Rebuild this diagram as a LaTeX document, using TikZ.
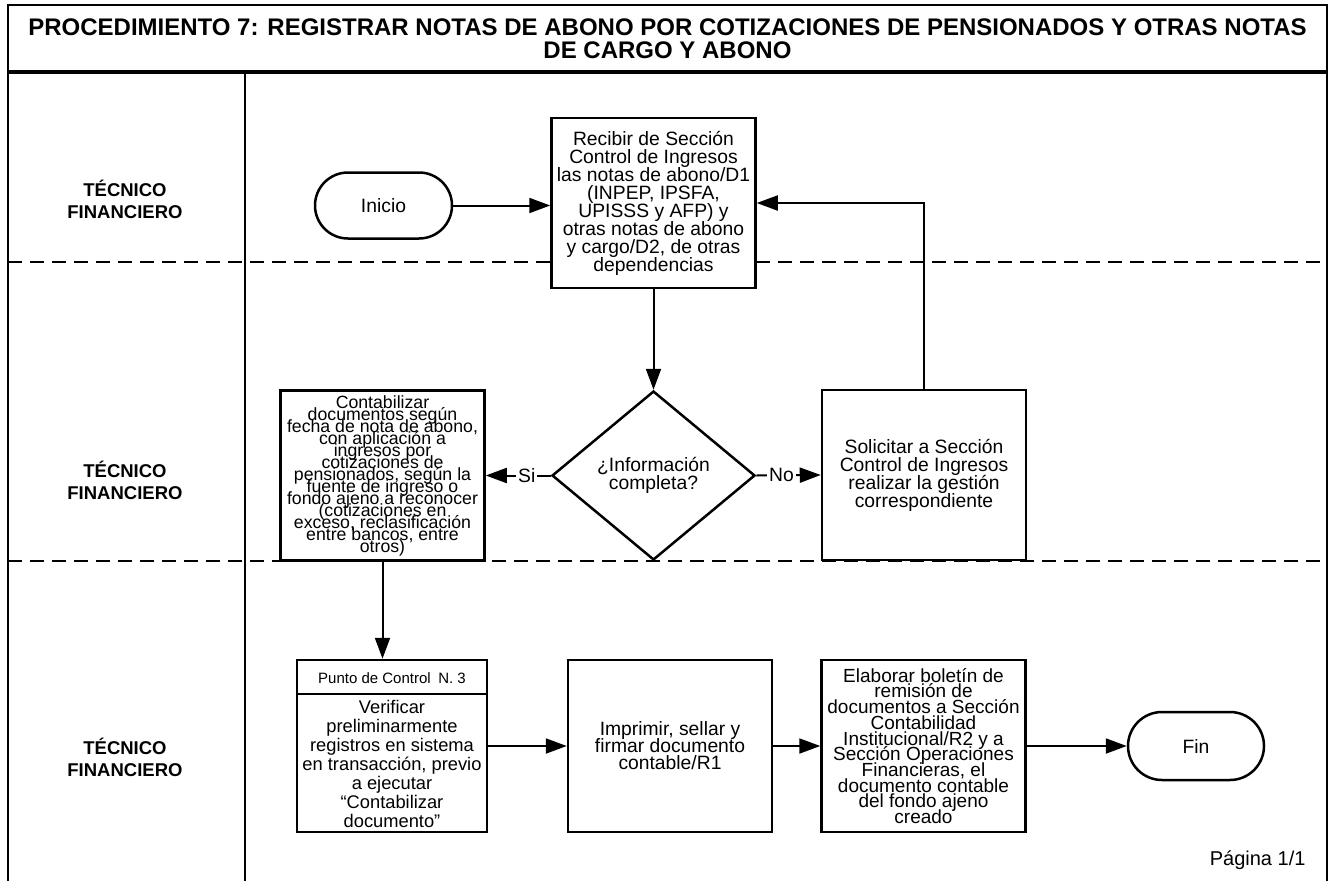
\documentclass[tikz,border=0pt]{standalone}
\usepackage{fontspec}
\setmainfont{Liberation Sans}
\usetikzlibrary{arrows.meta,shapes.geometric}

% fixed leading even when lines would touch
\newcommand{\setleading}[2]{\fontsize{#1}{#2}\selectfont\lineskiplimit=-100pt\lineskip=0pt}

\tikzset{
  box/.style={draw, fill=white, line width=2.5pt, minimum width=204pt, minimum height=170pt,
    inner sep=0pt, align=center, font=\setleading{19.3}{18}},
  term/.style={draw, fill=white, line width=2.5pt, rounded corners=33pt, minimum width=137pt,
    minimum height=66pt, inner sep=0pt, font=\setleading{19.3}{18}},
  decision/.style={draw, fill=white, diamond, line width=2.5pt, minimum width=203pt,
    minimum height=169pt, inner sep=0pt, align=center, font=\setleading{19.3}{18}},
  flow/.style={line width=2pt, -{Triangle[length=21pt,width=15pt]}},
  tag/.style={fill=white, inner sep=2pt, font=\setleading{19.3}{18}},
  lane/.style={align=center, font=\bfseries\setleading{18.5}{22}},
  lanesep/.style={line width=2pt, dash pattern=on 14pt off 8pt},
  frameline/.style={line width=2.5pt},
}

\begin{document}
\begin{tikzpicture}[x=1pt, y=-1pt]
  % canvas
  \fill[white] (0,0) rectangle (1330,881);
  \useasboundingbox (0,0) rectangle (1330,881);

  % frame, title band and lane column
  \draw[frameline] (8,881) -- (8,5) -- (1327,5) -- (1327,881);
  \draw[line width=3.5pt] (8,72) -- (1327,72);
  \draw[frameline] (245,72) -- (245,881);
  \draw[lanesep] (8,262) -- (1327,262);
  \draw[lanesep] (8,561) -- (1327,561);

  \node[align=center, font=\bfseries\setleading{24}{23}] (title) at (667.5,38.5)
    {PROCEDIMIENTO 7: REGISTRAR NOTAS DE ABONO POR COTIZACIONES DE PENSIONADOS Y OTRAS NOTAS\\DE CARGO Y ABONO};

  % lane labels
  \node[lane] (lane1) at (125,199) {TÉCNICO\\FINANCIERO};
  \node[lane] (lane2) at (125,480) {TÉCNICO\\FINANCIERO};
  \node[lane] (lane3) at (125,757) {TÉCNICO\\FINANCIERO};

  % lane 1
  \node[term] (ini) at (383.5,205.5) {Inicio};
  \node[box] (recibir) at (653.5,203)
    {Recibir de Sección\\Control de Ingresos\\las notas de abono/D1\\(INPEP, IPSFA,\\UPISSS y AFP) y\\otras notas de abono\\y cargo/D2, de otras\\dependencias};

  % lane 2
  \node[decision] (dec) at (653.5,475.5) {¿Información\\completa?};
  \node[box, font=\setleading{17.7}{12}] (conta) at (382.5,475.5)
    {Contabilizar\\documentos según\\fecha de nota de abono,\\con aplicación a\\ingresos por\\cotizaciones de\\pensionados, según la\\fuente de ingreso o\\fondo ajeno a reconocer\\(cotizaciones en\\exceso, reclasificación\\entre bancos, entre\\otros)};
  \node[box] (solic) at (924,475)
    {Solicitar a Sección\\Control de Ingresos\\realizar la gestión\\correspondiente};

  % lane 3
  \node[box, minimum width=190pt, minimum height=172pt] (punto) at (392,746) {};
  \draw[line width=2pt] (punto.north west) ++(0,35) coordinate (hdl) -- (hdl -| punto.east);
  \node[font=\setleading{15}{17}] (puntohead) at (392,678) {Punto de Control\enspace N. 3};
  \node[align=center, font=\setleading{18.3}{19}] (puntotxt) at (392,763.5)
    {Verificar\\preliminarmente\\registros en sistema\\en transacción, previo\\a ejecutar\\“Contabilizar\\documento”};
  \node[box, minimum height=172pt, font=\setleading{19.3}{17}] (impr) at (670,746)
    {Imprimir, sellar y\\firmar documento\\contable/R1};
  \node[box, minimum height=172pt, font=\setleading{19}{15.7}] (elab) at (923.5,746)
    {Elaborar boletín de\\remisión de\\documentos a Sección\\Contabilidad\\Institucional/R2 y a\\Sección Operaciones\\Financieras, el\\documento contable\\del fondo ajeno\\creado};
  \node[term, minimum width=136pt, minimum height=68pt, rounded corners=34pt] (fin) at (1196,746) {Fin};

  \node[anchor=east, font=\setleading{20}{22}] (pagina) at (1309,860) {Página 1/1};

  % connectors
  \draw[flow] (ini.east) -- (ini.east -| recibir.west);
  \draw[flow] (recibir.south) -- (dec.north);
  \draw[flow] (dec.west) -- node[tag, pos=0.37] {Si} (conta.east);
  \draw[flow] (dec.east) -- node[tag, pos=0.39] {No} (solic.west);
  \draw[flow] (solic.north) |- (recibir.east);
  \draw[flow] (conta.south) -- (conta.south |- punto.north);
  \draw[flow] (punto.east) -- (impr.west);
  \draw[flow] (impr.east) -- (elab.west);
  \draw[flow] (elab.east) -- (fin.west);
\end{tikzpicture}
\end{document}
